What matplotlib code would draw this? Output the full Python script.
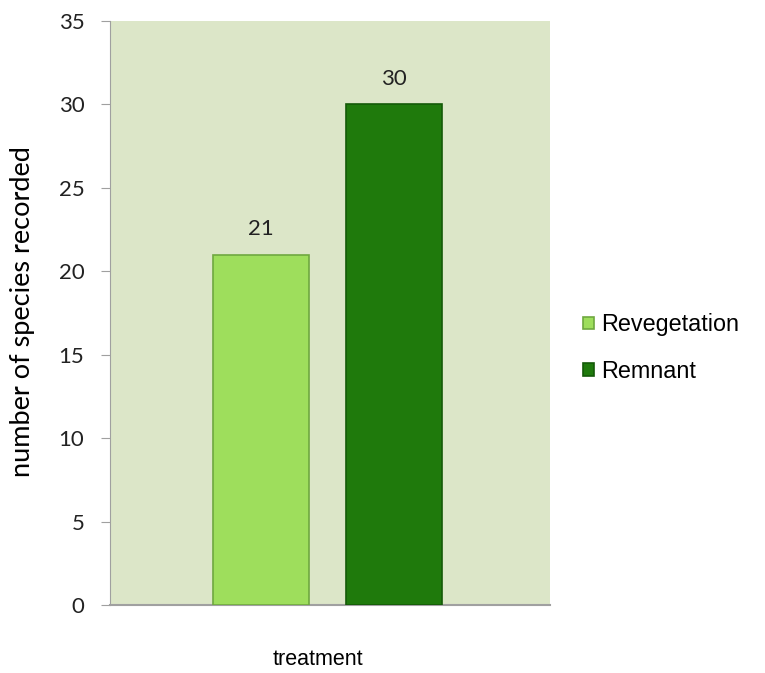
import matplotlib
matplotlib.use("Agg")
import matplotlib.pyplot as plt

# data
series = ["Revegetation", "Remnant"]
species = [21, 30]
colors = ["#9ede5c", "#1f7a0c"]
edges = ["#6fa840", "#145a08"]

fig = plt.figure(figsize=(7.65, 6.73), dpi=100)
ax = fig.add_axes([0.1438, 0.101, 0.575, 0.868])
ax.set_facecolor("#dce6c8")

positions = [0, 1]
for pos, val, c, ec, name in zip(positions, species, colors, edges, series):
    ax.bar(pos, val, width=0.72, color=c, edgecolor=ec, linewidth=1.2,
           label=name, zorder=3)
    ax.annotate(str(val), (pos, val), xytext=(0, 11), textcoords="offset points",
                ha="center", va="bottom", fontsize=16, family="Lato",
                color="#222222")

ax.set_xlim(-1.13, 2.165)
ax.set_ylim(0, 35)
ax.set_yticks(range(0, 36, 5))
ax.set_xticks([])
ax.tick_params(axis="y", direction="out", length=6.5, color="#a0a0a0",
               labelsize=16, labelcolor="#222222", pad=12)
for lab in ax.get_yticklabels():
    lab.set_family("Lato")

for s in ["top", "right"]:
    ax.spines[s].set_visible(False)
ax.spines["left"].set_color("#a0a0a0")
ax.spines["bottom"].set_color("#a0a0a0")
ax.spines["bottom"].set_linewidth(1.5)

ax.set_ylabel("number of species recorded", fontsize=19.5, family="Lato")
ax.yaxis.set_label_coords(-0.17, 0.502)
ax.set_xlabel("treatment", fontsize=15.5, family="Liberation Sans", va="center")
ax.xaxis.set_label_coords(0.472, -0.094)

leg = ax.legend(loc="center left", bbox_to_anchor=(1.028, 0.44), frameon=False,
                prop={"family": "Liberation Sans", "size": 16.8},
                handlelength=0.45, handleheight=0.45, handletextpad=0.3,
                labelspacing=1.0)

fig.savefig("out.png", dpi=100)
